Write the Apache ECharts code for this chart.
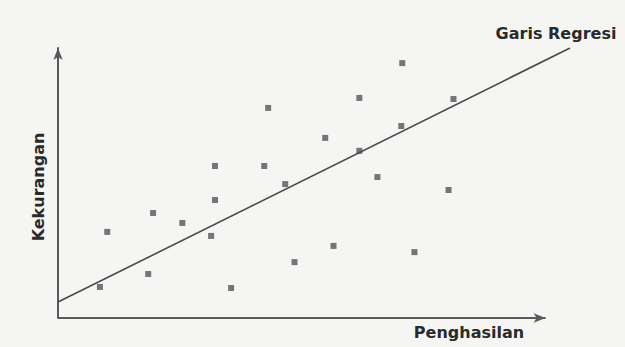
<!DOCTYPE html>
<html>
<head>
<meta charset="utf-8">
<script src="https://cdn.jsdelivr.net/npm/echarts@6/dist/echarts.min.js"></script>
<style>
  html, body { margin: 0; padding: 0; background: #f5f5f4; }
  #chart { width: 625px; height: 347px; }
</style>
</head>
<body>
<div id="chart"></div>
<script>
// Scatter penghasilan vs kekurangan, dengan garis regresi
var pointsX = [43.1, 54.8, 32.2, 42.3, 46.6, 32.2, 19.5, 25.5, 10.1, 31.4, 56.5, 48.5,
  18.5, 8.6, 35.5, 70.6, 61.8, 81.1, 70.4, 61.8, 65.5, 80.1, 73.1];
var pointsY = [77.8, 66.7, 56.3, 56.3, 49.6, 43.7, 38.9, 35.2, 31.9, 30.4, 26.7, 20.7,
  16.3, 11.5, 11.1, 94.4, 81.5, 81.1, 71.1, 61.9, 52.2, 47.4, 24.4];
var lineX = [0, 105];
var lineY = [5.9, 100];
var axisEndX = 100;
var xName = 'Penghasilan';
var yName = 'Kekurangan';
var lineName = 'Garis Regresi';

(function() {
  var ink = '#2a2a2a';
  var axisCol = '#5a5a5a';
  var dotCol = '#555555';
  var font = 'bold 16px "DejaVu Sans", sans-serif';

  var scatter = pointsX.map(function(x, i) { return [x, pointsY[i]]; });
  var reg = lineX.map(function(x, i) { return [x, lineY[i]]; });

  var chart = echarts.init(document.getElementById('chart'), null, { renderer: 'svg' });
  chart.setOption({
    animation: false,
    backgroundColor: '#f5f5f4',
    grid: { left: 58, top: 48, width: 512, height: 270 },
    xAxis: {
      type: 'value', min: 0, max: 105,
      axisLine: { show: false },
      axisTick: { show: false }, axisLabel: { show: false }, splitLine: { show: false }
    },
    yAxis: {
      type: 'value', min: 0, max: 100,
      axisLine: { show: true, symbol: ['none', 'arrow'], symbolSize: [7, 12], lineStyle: { color: axisCol, width: 2 } },
      axisTick: { show: false }, axisLabel: { show: false }, splitLine: { show: false }
    },
    graphic: [
      { type: 'text', x: 469, y: 332,
        style: { text: xName, font: font, fill: ink, align: 'center', verticalAlign: 'middle' } },
      { type: 'text', x: 556, y: 33,
        style: { text: lineName, font: font, fill: ink, align: 'center', verticalAlign: 'middle' } },
      { type: 'text', x: 38, y: 187, rotation: Math.PI / 2,
        style: { text: yName, font: font, fill: ink, align: 'center', verticalAlign: 'middle' } }
    ],
    series: [
      {
        type: 'line',
        data: reg,
        symbol: 'none',
        lineStyle: { color: '#4a4a4a', width: 1.6 },
        // sumbu X dengan panah, lebih pendek dari garis regresi
        markLine: {
          silent: true,
          symbol: ['none', 'arrow'],
          symbolSize: [7, 12],
          label: { show: false },
          lineStyle: { color: axisCol, width: 2, type: 'solid' },
          data: [[{ coord: [0, 0] }, { coord: [axisEndX, 0] }]]
        }
      },
      {
        type: 'scatter',
        data: scatter,
        symbol: 'rect',
        symbolSize: 6,
        itemStyle: { color: dotCol }
      }
    ]
  });
})();
</script>
</body>
</html>
